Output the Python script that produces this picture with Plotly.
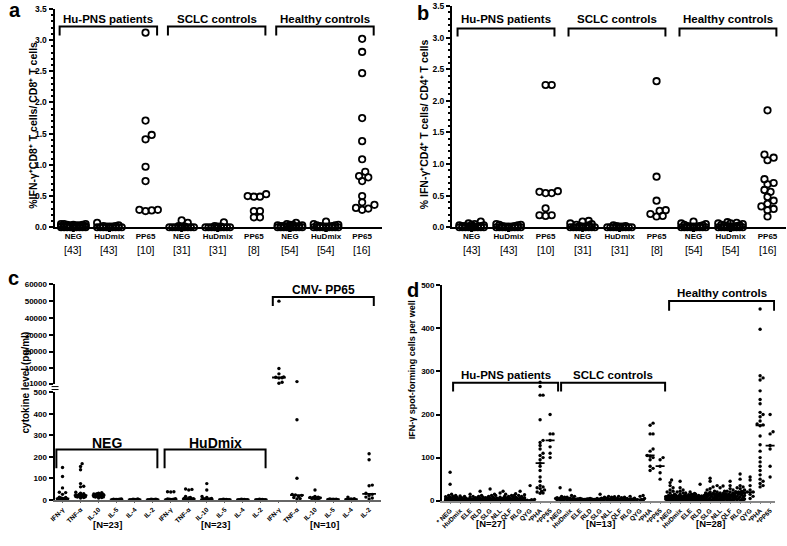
import statistics
import plotly.graph_objects as go

W, H = 787, 546
FONT = "Liberation Sans, Arial, sans-serif"

# ---------------- data: panels a & b ----------------
ab_groups = ["Hu-PNS patients", "SCLC controls", "Healthy controls"]
ab_stimuli = ["NEG", "HuDmix", "PP65"]
ab_counts = ["[43]", "[43]", "[10]", "[31]", "[31]", "[8]", "[54]", "[54]", "[16]"]

a_hu_neg = [0.05, 0.05, 0.05, 0.04, 0.04, 0.04, 0.03, 0.03, 0.03, 0.02, 0.02, 0.02, 0.02,
            0.01, 0.01, 0.01, 0.01, 0.01, 0.01] + [0.0] * 24
a_hu_hud = [0.07, 0.03, 0.02, 0.02, 0.01, 0.01, 0.01] + [0.0] * 36
a_hu_pp65 = [3.12, 1.71, 1.48, 1.41, 0.97, 0.74, 0.28, 0.26, 0.27, 0.28]
a_sc_neg = [0.11, 0.07, 0.02, 0.01, 0.01] + [0.0] * 26
a_sc_hud = [0.08, 0.02, 0.01, 0.01] + [0.0] * 27
a_sc_pp65 = [0.53, 0.50, 0.49, 0.49, 0.26, 0.26, 0.16, 0.16]
a_hc_neg = [0.07, 0.05, 0.04, 0.04, 0.03, 0.03, 0.02, 0.02, 0.02, 0.01, 0.01, 0.01, 0.01] + [0.0] * 41
a_hc_hud = [0.09, 0.05, 0.04, 0.03, 0.03, 0.02, 0.02, 0.01, 0.01, 0.01] + [0.0] * 44
a_hc_pp65 = [3.02, 2.81, 2.47, 1.75, 1.38, 1.09, 0.89, 0.82, 0.80, 0.74, 0.50, 0.40, 0.36, 0.31, 0.30, 0.28]

b_hu_neg = [0.09, 0.06, 0.05, 0.04, 0.03, 0.03, 0.02, 0.02, 0.02, 0.01, 0.01, 0.01, 0.01] + [0.0] * 30
b_hu_hud = [0.05, 0.04, 0.04, 0.03, 0.02, 0.02, 0.01, 0.01, 0.01] + [0.0] * 34
b_hu_pp65 = [2.25, 2.25, 0.57, 0.56, 0.54, 0.54, 0.30, 0.19, 0.18, 0.19]
b_sc_neg = [0.10, 0.09, 0.06, 0.05, 0.04, 0.03, 0.02, 0.01, 0.01] + [0.0] * 22
b_sc_hud = [0.03, 0.02, 0.02, 0.01, 0.01] + [0.0] * 26
b_sc_pp65 = [2.31, 0.80, 0.42, 0.27, 0.26, 0.21, 0.18, 0.17]
b_hc_neg = [0.09, 0.06, 0.05, 0.04, 0.03, 0.02, 0.02, 0.01, 0.01, 0.01] + [0.0] * 44
b_hc_hud = [0.08, 0.07, 0.06, 0.06, 0.05, 0.04, 0.03, 0.03, 0.02, 0.02, 0.01, 0.01] + [0.0] * 42
b_hc_pp65 = [1.85, 1.15, 1.10, 1.06, 0.76, 0.70, 0.68, 0.59, 0.56, 0.48, 0.42, 0.37, 0.33, 0.29, 0.27, 0.17]

# ---------------- data: panel c ----------------
c_groups = ["NEG", "HuDmix", "CMV- PP65"]
c_cytokines = ["IFN-γ", "TNF-α", "IL-10", "IL-5", "IL-4", "IL-2"]
c_counts = ["[N=23]", "[N=23]", "[N=10]"]
c_upper_ticks = [1000, 10000, 20000, 30000, 40000, 50000, 60000]

c_neg_ifn = [150, 108, 55, 35, 33, 25, 12, 10, 8, 6, 5, 5, 4, 3, 3, 2, 2, 1, 1, 0, 0, 0, 0]
c_neg_tnf = [168, 155, 140, 75, 63, 60, 35, 30, 28, 25, 22, 20, 20, 18, 18, 17, 16, 15, 15, 14, 12, 10, 8]
c_neg_il10 = [33, 30, 28, 27, 26, 25, 25, 24, 22, 21, 20, 20, 19, 18, 18, 17, 16, 15, 14, 13, 12, 10, 8]
c_neg_il5 = [3, 2, 2, 1, 1, 1] + [0] * 17
c_neg_il4 = [3, 2, 1, 1] + [0] * 19
c_neg_il2 = [2, 2, 1, 1] + [0] * 19
c_hud_ifn = [37, 37, 36, 5, 3, 2, 2, 1, 1] + [0] * 14
c_hud_tnf = [50, 48, 45, 15, 10, 8, 6, 5, 4, 3, 2, 2, 1] + [0] * 10
c_hud_il10 = [75, 45, 15, 10, 6, 5, 4, 3, 2, 1] + [0] * 13
c_hud_il5 = [2, 1, 1] + [0] * 20
c_hud_il4 = [2, 1, 1] + [0] * 20
c_hud_il2 = [2, 1, 1] + [0] * 20
c_cmv_ifn = [50000, 10000, 6800, 5000, 4800, 4500, 4300, 1800, 1200, 505]
c_cmv_tnf = [2200, 373, 100, 25, 22, 20, 15, 10, 5, 3]
c_cmv_il10 = [45, 15, 12, 10, 10, 8, 8, 5, 3, 2]
c_cmv_il5 = [3, 2, 2, 1, 1, 1, 0, 0, 0, 0]
c_cmv_il4 = [12, 5, 3, 2, 1, 1, 0, 0, 0, 0]
c_cmv_il2 = [214, 186, 68, 65, 30, 25, 20, 12, 8, 3]

# ---------------- data: panel d ----------------
d_groups = ["Hu-PNS patients", "SCLC controls", "Healthy controls"]
d_peptides = ["* NEG", "HuDmix", "ELE", "RLD", "SLG", "NLL", "QLF", "RLG", "QYG", "*PHA", "*PP65"]
d_counts = ["[N=27]", "[N=13]", "[N=28]"]

d_hu = [
    [66, 38, 15, 12, 10, 9, 8, 7, 6, 5, 5, 5, 4, 4, 3, 3, 3, 2, 2, 2, 1, 1, 1, 0, 0, 0, 0],
    [12, 11, 10, 8, 7, 6, 5, 5, 4, 4, 3, 3, 3, 2, 2, 2, 1, 1, 1, 1, 0, 0, 0, 0, 0, 0, 0],
    [15, 10, 8, 6, 5, 4, 4, 3, 3, 3, 2, 2, 2, 1, 1, 1, 1, 0, 0, 0, 0, 0, 0, 0, 0, 0, 0],
    [22, 12, 10, 8, 7, 6, 5, 5, 4, 4, 3, 3, 3, 2, 2, 2, 1, 1, 1, 0, 0, 0, 0, 0, 0, 0, 0],
    [27, 15, 12, 10, 8, 7, 6, 5, 5, 4, 4, 3, 3, 3, 2, 2, 2, 1, 1, 1, 0, 0, 0, 0, 0, 0, 0],
    [22, 18, 12, 10, 8, 6, 5, 4, 4, 3, 3, 2, 2, 2, 1, 1, 1, 0, 0, 0, 0, 0, 0, 0, 0, 0, 0],
    [15, 13, 12, 10, 8, 7, 6, 5, 5, 4, 4, 3, 3, 3, 2, 2, 2, 1, 1, 1, 0, 0, 0, 0, 0, 0, 0],
    [22, 16, 14, 12, 10, 8, 7, 6, 5, 5, 4, 4, 3, 3, 3, 2, 2, 2, 1, 1, 1, 0, 0, 0, 0, 0, 0],
    [35, 3, 2, 1, 0, 0],
    [275, 265, 245, 245, 188, 140, 135, 128, 120, 110, 105, 100, 95, 87, 80, 70, 55, 45, 35,
     32, 30, 28, 25, 22, 20, 18, 17],
    [200, 155, 155, 140, 125, 110, 100],
]
d_sc = [
    [30, 10, 8, 7, 6, 5, 5, 4, 3, 3, 2, 1, 0],
    [25, 12, 10, 8, 6, 5, 5, 4, 3, 2, 1, 0, 0],
    [5, 4, 4, 4, 3, 3, 3, 3, 2, 2, 1, 1, 0],
    [5, 4, 4, 4, 3, 3, 3, 3, 2, 2, 1, 1, 0],
    [15, 8, 6, 5, 4, 4, 3, 3, 3, 2, 1, 1, 0],
    [10, 9, 8, 6, 5, 4, 4, 3, 3, 2, 2, 1, 0],
    [10, 8, 7, 5, 4, 4, 3, 3, 3, 2, 1, 1, 0],
    [10, 6, 5, 4, 3, 3, 3, 2, 2, 1, 1, 0, 0],
    [12, 10, 5, 3, 2, 1, 0],
    [180, 175, 155, 155, 120, 115, 105, 103, 100, 95, 80, 75, 70],
    [100, 95, 80, 65, 50],
]
d_hc = [
    [48, 42, 35, 30, 25, 22, 20, 18, 15, 12, 12, 10, 10, 10, 9, 8, 8, 7, 6, 5, 5, 4, 3, 3, 2, 1, 0, 0],
    [45, 30, 25, 22, 20, 18, 15, 13, 12, 11, 10, 10, 9, 9, 8, 8, 7, 6, 5, 5, 4, 3, 3, 2, 1, 0, 0, 0],
    [20, 18, 17, 15, 14, 13, 12, 11, 10, 10, 9, 9, 8, 8, 8, 7, 6, 6, 5, 5, 4, 3, 3, 2, 2, 1, 0, 0],
    [38, 15, 13, 12, 11, 10, 10, 9, 9, 8, 8, 8, 7, 7, 7, 6, 6, 5, 5, 4, 4, 3, 3, 2, 1, 1, 0, 0],
    [52, 45, 32, 28, 25, 22, 20, 18, 17, 16, 15, 15, 15, 14, 14, 12, 10, 8, 8, 6, 5, 4, 3, 2, 1, 1, 0, 0],
    [35, 34, 30, 22, 20, 18, 17, 15, 15, 14, 13, 13, 12, 12, 11, 10, 9, 8, 7, 6, 5, 4, 3, 2, 1, 0, 0, 0],
    [45, 35, 28, 25, 22, 20, 18, 16, 15, 14, 13, 13, 12, 12, 12, 11, 10, 9, 8, 7, 6, 5, 4, 3, 2, 1, 0, 0],
    [62, 50, 35, 32, 30, 28, 25, 22, 21, 20, 20, 19, 19, 18, 17, 15, 14, 12, 10, 9, 8, 6, 5, 4, 3, 2, 1, 0],
    [55, 48, 35, 25, 20, 20, 15, 10, 5],
    [445, 398, 290, 285, 280, 255, 235, 225, 205, 200, 195, 185, 178, 176, 174, 150, 130, 115,
     100, 90, 80, 70, 60, 50, 45, 40, 35, 32],
    [200, 160, 155, 128, 120, 80, 55],
]


# ---------------- helpers ----------------
def X(p):
    return p / W


def Y(p):
    return 1 - p / H


def swarm(vals, ypx, ppc, diam, maxhalf):
    """Deterministic beeswarm: horizontal offsets (category units) so dots don't overlap."""
    n = len(vals)
    order = sorted(range(n), key=lambda i: vals[i])
    step = diam / 2.0
    kmax = int(maxhalf / step)
    cands = [0.0]
    for k in range(1, kmax + 1):
        cands += [k * step, -k * step]
    placed = []
    offs = [0.0] * n
    for i in order:
        y = ypx(vals[i])
        chosen, best, bestd = None, 0.0, -1.0
        for c in cands:
            dmin = min((((c - a) ** 2 + (y - b) ** 2) ** 0.5 for a, b in placed), default=1e9)
            if dmin >= diam * 0.95:
                chosen = c
                break
            if dmin > bestd:
                best, bestd = c, dmin
        if chosen is None:
            chosen = best
        placed.append((chosen, y))
        offs[i] = chosen / ppc
    return offs


fig = go.Figure()
shapes, annos = [], []


def bfont(size):
    return dict(family=FONT, size=size, color="black", weight="bold")


def bracket(xref, x0, x1, ytop, ybot, label, fsize, ylab):
    shapes.append(dict(type="path", xref=xref, yref="paper",
                       path=f"M {x0},{Y(ybot)} L {x0},{Y(ytop)} L {x1},{Y(ytop)} L {x1},{Y(ybot)}",
                       line=dict(color="black", width=2)))
    annos.append(dict(xref=xref, yref="paper", x=(x0 + x1) / 2, y=Y(ylab), text=label,
                      showarrow=False, font=bfont(fsize), xanchor="center", yanchor="middle"))


# ---------------- panels a & b ----------------
a_sets = [a_hu_neg, a_hu_hud, a_hu_pp65, a_sc_neg, a_sc_hud, a_sc_pp65, a_hc_neg, a_hc_hud, a_hc_pp65]
b_sets = [b_hu_neg, b_hu_hud, b_hu_pp65, b_sc_neg, b_sc_hud, b_sc_pp65, b_hc_neg, b_hc_hud, b_hc_pp65]

for sets, xa, ya, ppu, ppc in [(a_sets, "x", "y", 63.4, 36.4), (b_sets, "x2", "y2", 64.4, 37.4)]:
    xs, ys = [], []
    for i, vals in enumerate(sets):
        offs = swarm(vals, lambda v: v * ppu, ppc, 6.2, 14)
        xs += [i + o for o in offs]
        ys += vals
    fig.add_trace(go.Scatter(x=xs, y=ys, xaxis=xa, yaxis=ya, mode="markers", cliponaxis=False,
                             marker=dict(symbol="circle-open", size=6.4, color="black",
                                         line=dict(width=1.8, color="black")),
                             hoverinfo="y"))

ab_x_common = dict(tickmode="array", tickvals=list(range(9)), ticktext=ab_stimuli * 3, ticks="",
                   showline=True, linecolor="black", linewidth=2, showgrid=False, zeroline=False,
                   tickfont=bfont(8))
ab_y_common = dict(range=[0, 3.5], dtick=0.5, tickformat=".1f", ticks="outside", ticklen=4,
                   tickwidth=1.5, tickcolor="black", showline=True, linecolor="black", linewidth=2,
                   showgrid=False, zeroline=False, tickfont=bfont(8.5),
                   minor=dict(dtick=0.1, ticks="outside", ticklen=2, tickcolor="black", showgrid=False))

for g in range(3):
    bracket("x", g * 3 - 0.38, g * 3 + 2.32, 23, 32, ab_groups[g], 11.5, 15)
    bracket("x2", g * 3 - 0.38, g * 3 + 2.24, 25, 33, ab_groups[g], 11.5, 15)
for i, t in enumerate(ab_counts):
    for xr in ("x", "x2"):
        annos.append(dict(xref=xr, yref="paper", x=i, y=Y(250), text=t, showarrow=False,
                          yanchor="middle", font=dict(family=FONT, size=10.5, color="black")))

# ---------------- panel c ----------------
c_sets = [c_neg_ifn, c_neg_tnf, c_neg_il10, c_neg_il5, c_neg_il4, c_neg_il2,
          c_hud_ifn, c_hud_tnf, c_hud_il10, c_hud_il5, c_hud_il4, c_hud_il2,
          c_cmv_ifn, c_cmv_tnf, c_cmv_il10, c_cmv_il5, c_cmv_il4, c_cmv_il2]


def c_ypx(v):
    return v * 0.22 if v < 1000 else 117 + (v - 1000) * 102 / 59000


lx, ly, ux, uy = [], [], [], []
mlx, mly, mux, muy = [], [], [], []
for i, vals in enumerate(c_sets):
    offs = swarm(vals, c_ypx, 18.2, 3.2, 6)
    for v, o in zip(vals, offs):
        if v < 1000:
            lx.append(i + o); ly.append(v)
        else:
            ux.append(i + o); uy.append(v)
    med = statistics.median(vals)
    if med < 1000:
        mlx += [i - 0.38, i + 0.38, None]; mly += [med, med, None]
    else:
        mux += [i - 0.38, i + 0.38, None]; muy += [med, med, None]

dot = dict(symbol="circle", size=3.4, color="black")
fig.add_trace(go.Scatter(x=lx, y=ly, xaxis="x3", yaxis="y3", mode="markers", marker=dot,
                         cliponaxis=False, hoverinfo="y"))
fig.add_trace(go.Scatter(x=ux, y=uy, xaxis="x5", yaxis="y5", mode="markers", marker=dot,
                         cliponaxis=False, hoverinfo="y"))
fig.add_trace(go.Scatter(x=mlx, y=mly, xaxis="x3", yaxis="y3", mode="lines", cliponaxis=False,
                         line=dict(color="black", width=1.8), hoverinfo="skip"))
fig.add_trace(go.Scatter(x=mux, y=muy, xaxis="x5", yaxis="y5", mode="lines", cliponaxis=False,
                         line=dict(color="black", width=1.8), hoverinfo="skip"))

bracket("x3", 0 * 6 - 0.34, 0 * 6 + 5.26, 453, 472, c_groups[0], 14, 446)
bracket("x3", 1 * 6 - 0.34, 1 * 6 + 5.26, 453, 472, c_groups[1], 14, 446)
bracket("x3", 2 * 6 - 0.34, 2 * 6 + 5.26, 298, 307, c_groups[2], 12, 291)
for g, t in enumerate(c_counts):
    annos.append(dict(xref="x3", yref="paper", x=g * 6 + 2.5, y=Y(529), text=t, showarrow=False,
                      yanchor="middle", font=bfont(9.5)))
# axis break mark
for yy in (389, 392):
    shapes.append(dict(type="line", xref="paper", yref="paper", x0=X(45), x1=X(52), y0=Y(yy), y1=Y(yy),
                       line=dict(color="black", width=1)))

# ---------------- panel d ----------------
d_sets = d_hu + d_sc + d_hc
dx, dy, mdx, mdy = [], [], [], []
for i, vals in enumerate(d_sets):
    offs = swarm(vals, lambda v: v * 0.438, 10.1, 3.0, 4.5)
    dx += [i + o for o in offs]
    dy += vals
    med = statistics.median(vals)
    mdx += [i - 0.45, i + 0.45, None]; mdy += [med, med, None]
fig.add_trace(go.Scatter(x=dx, y=dy, xaxis="x4", yaxis="y4", mode="markers", marker=dot,
                         cliponaxis=False, hoverinfo="y"))
fig.add_trace(go.Scatter(x=mdx, y=mdy, xaxis="x4", yaxis="y4", mode="lines", cliponaxis=False,
                         line=dict(color="black", width=1.8), hoverinfo="skip"))

d_spans = [(0.3, 10.8), (11.1, 21.5), (21.9, 32.4)]
bracket("x4", d_spans[0][0], d_spans[0][1], 385, 394, d_groups[0], 11.5, 377)
bracket("x4", d_spans[1][0], d_spans[1][1], 385, 394, d_groups[1], 11.5, 377)
bracket("x4", d_spans[2][0], d_spans[2][1], 302, 312, d_groups[2], 11.5, 294)
for g, t in enumerate(d_counts):
    annos.append(dict(xref="x4", yref="paper", x=g * 11 + 4.0, y=Y(528), text=t, showarrow=False,
                      yanchor="middle", font=bfont(9.5)))

# ---------------- axis titles & panel letters ----------------
titles = [
    ("%IFN-γ⁺CD8⁺ T cells/ CD8⁺ T cells", 26, 123, 10.5),
    ("% IFN-γ⁺CD4⁺ T cells/ CD4⁺ T cells", 421, 122, 10.5),
    ("cytokine level (pg/ml)", 19, 385, 10),
    ("IFN-γ spot-forming cells per well", 409, 372, 9),
]
for text, xp, yp, fs in titles:
    annos.append(dict(xref="paper", yref="paper", x=X(xp), y=Y(yp), text=text, textangle=-90,
                      showarrow=False, font=bfont(fs), xanchor="center", yanchor="middle"))
for letter, xp, yp in [("a", 8, 6), ("b", 420, 9), ("c", 7, 279), ("d", 410, 291)]:
    annos.append(dict(xref="paper", yref="paper", x=X(xp), y=Y(yp), text=letter, showarrow=False,
                      font=bfont(20), xanchor="center", yanchor="middle"))

small_y = dict(ticks="outside", ticklen=4, tickwidth=1.5, tickcolor="black", showline=True,
               linecolor="black", linewidth=2, showgrid=False, zeroline=False, tickfont=bfont(8))

fig.update_layout(
    width=W, height=H, margin=dict(l=0, r=0, t=0, b=0),
    paper_bgcolor="white", plot_bgcolor="white", showlegend=False,
    font=dict(family=FONT, color="black"),
    xaxis=dict(domain=[X(48), X(378)], range=[-0.52, 8.54], anchor="y", **ab_x_common),
    yaxis=dict(domain=[Y(227), Y(5)], anchor="x", **ab_y_common),
    xaxis2=dict(domain=[X(449), X(786)], range=[-0.53, 8.5], anchor="y2", **ab_x_common),
    yaxis2=dict(domain=[Y(227), Y(2)], anchor="x2", **ab_y_common),
    xaxis3=dict(domain=[X(48), X(377)], range=[-0.44, 17.64], anchor="y3", tickmode="array",
                tickvals=list(range(18)), ticktext=c_cytokines * 3, tickangle=-45, ticks="outside",
                ticklen=2, tickcolor="#666", showline=True, linecolor="#666", linewidth=1.5,
                showgrid=False, zeroline=False, tickfont=bfont(6.5)),
    yaxis3=dict(domain=[Y(504), Y(395)], range=[0, 500], dtick=100, anchor="x3", **small_y),
    xaxis5=dict(domain=[X(48), X(377)], range=[-0.44, 17.64], anchor="y5", visible=False),
    yaxis5=dict(domain=[Y(386), Y(285)], range=[1000, 60000], tickmode="array",
                tickvals=c_upper_ticks, ticktext=[str(t) for t in c_upper_ticks], anchor="x5", **small_y),
    xaxis4=dict(domain=[X(439), X(775)], range=[-0.8, 32.5], anchor="y4", tickmode="array",
                tickvals=list(range(33)), ticktext=d_peptides * 3, tickangle=-45, ticks="outside",
                ticklen=2, tickcolor="#888", showline=True, linecolor="#888", linewidth=1.5,
                showgrid=False, zeroline=False, tickfont=bfont(6.5)),
    yaxis4=dict(domain=[Y(505), Y(286)], range=[0, 500], dtick=100, anchor="x4", **small_y),
    shapes=shapes, annotations=annos,
)

fig.write_html("out.html", config={"displayModeBar": False},
               post_script="document.body.style.margin='0px';")
